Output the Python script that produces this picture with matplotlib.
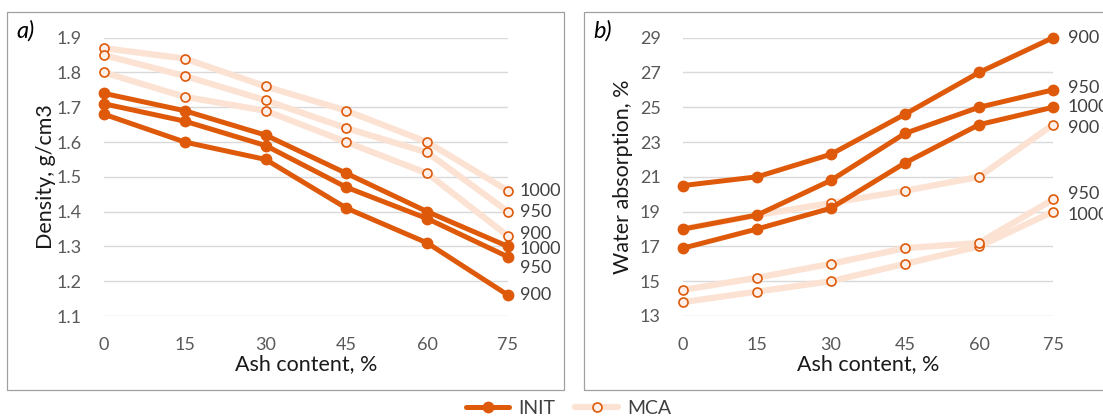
import matplotlib
matplotlib.use("Agg")
import matplotlib.pyplot as plt
from matplotlib.lines import Line2D
from matplotlib.patches import Rectangle

plt.rcParams['font.family'] = ['Lato', 'DejaVu Sans']

ash = [0, 15, 30, 45, 60, 75]
temps = ["1000", "950", "900"]

# density, g/cm3
dens_init = {"1000": [1.74, 1.69, 1.62, 1.51, 1.40, 1.30],
             "950": [1.71, 1.66, 1.59, 1.47, 1.38, 1.27],
             "900": [1.68, 1.60, 1.55, 1.41, 1.31, 1.16]}
dens_mca = {"1000": [1.87, 1.84, 1.76, 1.69, 1.60, 1.46],
            "950": [1.85, 1.79, 1.72, 1.64, 1.57, 1.40],
            "900": [1.80, 1.73, 1.69, 1.60, 1.51, 1.33]}

# water absorption, %
wa_init = {"900": [20.5, 21.0, 22.3, 24.6, 27.0, 29.0],
           "950": [18.0, 18.8, 20.8, 23.5, 25.0, 26.0],
           "1000": [16.9, 18.0, 19.2, 21.8, 24.0, 25.0]}
wa_mca = {"900": [18.0, 18.8, 19.5, 20.2, 21.0, 24.0],
          "950": [14.5, 15.2, 16.0, 16.9, 17.2, 19.7],
          "1000": [13.8, 14.4, 15.0, 16.0, 17.0, 19.0]}

dark = '#DE5A0A'
light = '#FCE2D3'
grid_c = '#D9D9D9'
tick_c = '#595959'
lab_c = '#404040'

init_style = dict(color=dark, lw=3.6, marker='o', ms=7.5, mfc=dark, mec=dark,
                  solid_capstyle='round', clip_on=False, zorder=4)
mca_style = dict(color=light, lw=4.5, marker='o', ms=6.5, mfc='#FEF0E8', mec=dark,
                 mew=1.2, solid_capstyle='round', clip_on=False, zorder=3)

fig = plt.figure(figsize=(11.03, 4.17), dpi=100)

# panel frames
fig.patches.append(Rectangle((7 / 1103, 1 - 390 / 417), 557 / 1103, 378 / 417,
                             transform=fig.transFigure, fill=False,
                             edgecolor='#A0A0A0', lw=0.9))
fig.patches.append(Rectangle((584 / 1103, 1 - 390 / 417), 540 / 1103, 378 / 417,
                             transform=fig.transFigure, fill=False,
                             edgecolor='#A0A0A0', lw=0.9))

bottom = 1 - 316 / 417
height = (316 - 37.7) / 417
ax1 = fig.add_axes([104 / 1103, bottom, 404 / 1103, height])
ax2 = fig.add_axes([683 / 1103, bottom, 370 / 1103, height])


def style_axis(ax, ylim, yticks, ylabel, ylabel_x):
    ax.set_xlim(0, 75)
    ax.set_ylim(*ylim)
    ax.set_xticks(ash)
    ax.set_yticks(yticks)
    for s in ax.spines.values():
        s.set_visible(False)
    ax.tick_params(length=0, labelsize=13, labelcolor=tick_c)
    ax.tick_params(axis='y', pad=16)
    ax.tick_params(axis='x', pad=15)
    ax.grid(axis='y', color=grid_c, lw=1.0)
    ax.set_axisbelow(True)
    ax.set_xlabel("Ash content, %", fontsize=15.5, color='#1a1a1a', labelpad=1)
    ax.set_ylabel(ylabel, fontsize=15.5, color='#1a1a1a')
    ax.yaxis.set_label_coords(ylabel_x, 0.5)


def end_label(ax, y, text, dy_px, dx_px):
    ax.annotate(text, (75, y), xytext=(dx_px / 1.389, -dy_px / 1.389),
                textcoords='offset points', ha='left', va='center',
                fontsize=13, color=lab_c, annotation_clip=False)


# a) density
for t in temps:
    ax1.plot(ash, dens_mca[t], **mca_style)
for t in temps:
    ax1.plot(ash, dens_init[t], **init_style)
style_axis(ax1, (1.1, 1.9), [1.1, 1.2, 1.3, 1.4, 1.5, 1.6, 1.7, 1.8, 1.9],
           "Density, g/cm3", -0.12)
ax1.yaxis.set_major_formatter(plt.FuncFormatter(lambda v, p: f"{v:.1f}"))
for t, dy in zip(temps, [0, 0, -2]):
    end_label(ax1, dens_mca[t][-1], t, dy, 12)
for t, dy in zip(temps, [3, 11, 0]):
    end_label(ax1, dens_init[t][-1], t, dy, 12)

# b) water absorption
for t in temps:
    ax2.plot(ash, wa_mca[t], **mca_style)
for t in temps:
    ax2.plot(ash, wa_init[t], **init_style)
style_axis(ax2, (13, 29), list(range(13, 30, 2)), "Water absorption, %", -0.135)
for t, dy in zip(["900", "950", "1000"], [0, -2, 0]):
    end_label(ax2, wa_init[t][-1], t, dy, 15)
for t, dy in zip(["900", "950", "1000"], [3, -5, 3]):
    end_label(ax2, wa_mca[t][-1], t, dy, 15)

fig.text(16 / 1103, 1 - 31 / 417, "a)", fontsize=17, style='italic', va='center')
fig.text(593 / 1103, 1 - 31 / 417, "b)", fontsize=17, style='italic', va='center')

handles = [Line2D([], [], **{k: v for k, v in init_style.items()
                             if k not in ('clip_on', 'zorder')}),
           Line2D([], [], **{k: v for k, v in mca_style.items()
                             if k not in ('clip_on', 'zorder')})]
fig.legend(handles, ["INIT", "MCA"], loc='center', ncol=2, frameon=False,
           bbox_to_anchor=(569 / 1103, 1 - 408 / 417), fontsize=14,
           handlelength=2.2, handletextpad=0.5, columnspacing=1.0,
           labelcolor='#404040', borderpad=0)

fig.savefig("out.png", dpi=100)
